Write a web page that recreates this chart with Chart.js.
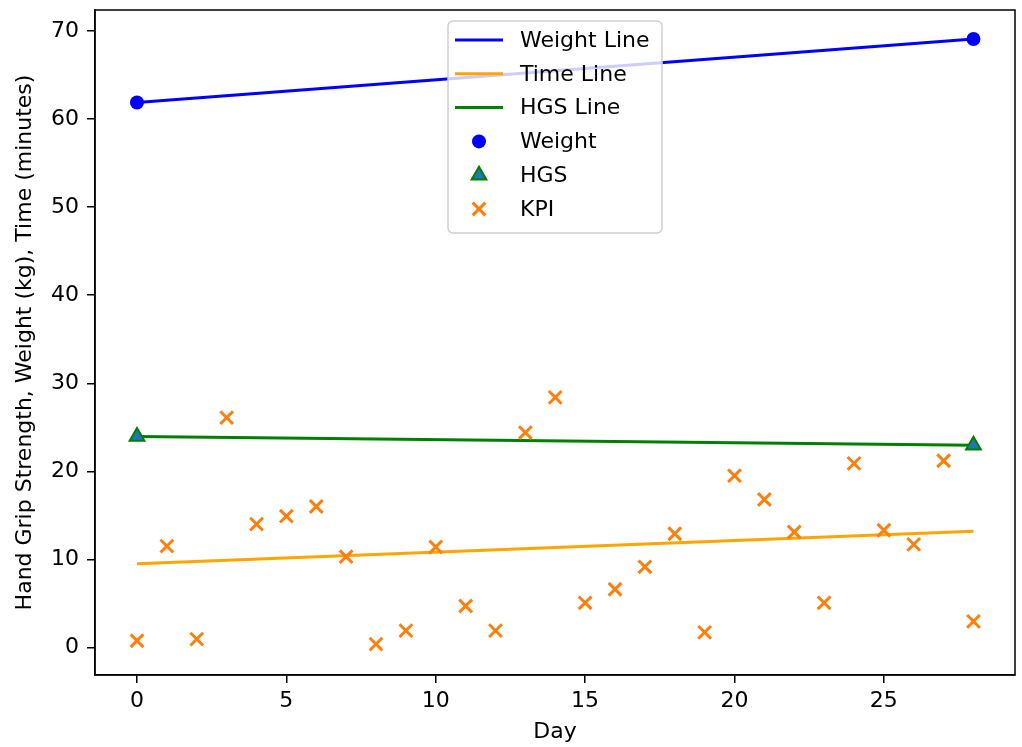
<!DOCTYPE html>
<html>
<head>
<meta charset="utf-8">
<script src="https://cdn.jsdelivr.net/npm/chart.js@4"></script>
<style>
  html, body { margin: 0; padding: 0; background: #fff; }
  #wrap { width: 1022px; height: 747px; }
</style>
</head>
<body>
<div id="wrap"><canvas id="chart" width="1022" height="747"></canvas></div>
<script>
// ---- data ----
const days = [0, 1, 2, 3, 4, 5, 6, 7, 8, 9, 10, 11, 12, 13, 14, 15, 16, 17, 18, 19, 20, 21, 22, 23, 24, 25, 26, 27, 28];
const kpi  = [0.75, 11.5, 0.94, 26.1, 14.0, 14.9, 16.0, 10.3, 0.37, 1.9, 11.4, 4.7, 1.9, 24.4, 28.4,
              5.06, 6.6, 9.15, 12.9, 1.7, 19.5, 16.8, 13.1, 5.06, 20.9, 13.3, 11.7, 21.2, 2.95];

const measureDays = [0, 28];
const weight      = [61.9, 69.1];
const hgs         = [23.95, 22.95];
const timeLine    = [9.5, 13.2];

const xTicks = [0, 5, 10, 15, 20, 25];
const yTicks = [0, 10, 20, 30, 40, 50, 60, 70];

const pts = (xs, ys) => xs.map((x, i) => ({ x: x, y: ys[i] }));

Chart.defaults.font.family = "'DejaVu Sans', sans-serif";
Chart.defaults.font.size = 22;
Chart.defaults.color = '#000';

// matplotlib-like frame around the axes
const framePlugin = {
    id: 'frame',
    afterDatasetsDraw(chart) {
        const { ctx, chartArea: a } = chart;
        ctx.save();
        ctx.strokeStyle = '#000';
        ctx.lineWidth = 1.5;
        ctx.strokeRect(a.left, a.top, a.right - a.left, a.bottom - a.top);
        ctx.restore();
    }
};

// legend drawn inside the plot, upper centre
const innerLegend = {
    id: 'innerLegend',
    afterDraw(chart) {
        const ctx = chart.ctx;
        const bx = 448, by = 21, bw = 214, bh = 212, r = 5;
        ctx.save();
        ctx.beginPath();
        ctx.moveTo(bx + r, by);
        ctx.arcTo(bx + bw, by, bx + bw, by + bh, r);
        ctx.arcTo(bx + bw, by + bh, bx, by + bh, r);
        ctx.arcTo(bx, by + bh, bx, by, r);
        ctx.arcTo(bx, by, bx + bw, by, r);
        ctx.closePath();
        ctx.fillStyle = 'rgba(255,255,255,0.8)';
        ctx.fill();
        ctx.strokeStyle = '#d0d0d0';
        ctx.lineWidth = 1.5;
        ctx.stroke();

        ctx.font = "22px 'DejaVu Sans', sans-serif";
        ctx.textBaseline = 'middle';
        ctx.textAlign = 'left';

        chart.data.datasets.forEach((ds, i) => {
            const y = 40 + i * 33.8;
            if (ds.type === 'line') {
                ctx.strokeStyle = ds.borderColor;
                ctx.lineWidth = ds.borderWidth;
                ctx.beginPath();
                ctx.moveTo(455, y);
                ctx.lineTo(503, y);
                ctx.stroke();
            } else {
                ctx.fillStyle = ds.backgroundColor;
                ctx.strokeStyle = ds.borderColor;
                ctx.lineWidth = ds.borderWidth;
                Chart.helpers.drawPoint(ctx, {
                    pointStyle: ds.pointStyle,
                    radius: ds.pointRadius,
                    rotation: 0,
                    borderWidth: ds.borderWidth
                }, 479, y);
            }
            ctx.fillStyle = '#000';
            ctx.fillText(ds.label, 520, y + 1);
        });
        ctx.restore();
    }
};

new Chart(document.getElementById('chart'), {
    type: 'scatter',
    data: {
        datasets: [
            {
                type: 'line', label: 'Weight Line',
                data: pts(measureDays, weight),
                borderColor: '#0000ff', borderWidth: 3,
                pointRadius: 0, order: 3
            },
            {
                type: 'line', label: 'Time Line',
                data: pts(measureDays, timeLine),
                borderColor: '#ffa500', borderWidth: 3,
                pointRadius: 0, order: 3
            },
            {
                type: 'line', label: 'HGS Line',
                data: pts(measureDays, hgs),
                borderColor: '#008000', borderWidth: 3,
                pointRadius: 0, order: 3
            },
            {
                type: 'scatter', label: 'Weight',
                data: pts(measureDays, weight),
                pointStyle: 'circle', pointRadius: 7,
                backgroundColor: '#0000ff', borderColor: '#0000ff', borderWidth: 0,
                order: 1
            },
            {
                type: 'scatter', label: 'HGS',
                data: pts(measureDays, hgs),
                pointStyle: 'triangle', pointRadius: 8.5,
                backgroundColor: '#1f77b4', borderColor: '#008000', borderWidth: 2,
                order: 1
            },
            {
                type: 'scatter', label: 'KPI',
                data: pts(days, kpi),
                pointStyle: 'crossRot', pointRadius: 9,
                backgroundColor: '#ff7f0e', borderColor: '#ff7f0e', borderWidth: 3,
                order: 2
            }
        ]
    },
    options: {
        responsive: false,
        animation: false,
        events: [],
        layout: { autoPadding: false, padding: { top: 10, right: 7, left: 0, bottom: 0 } },
        plugins: {
            legend: { display: false },
            tooltip: { enabled: false }
        },
        scales: {
            x: {
                type: 'linear',
                min: -1.406,
                max: 29.39,
                afterBuildTicks: s => { s.ticks = xTicks.map(v => ({ value: v })); },
                afterFit: s => { s.height = 72; s.paddingLeft = 0; s.paddingRight = 0; },
                grid: { drawOnChartArea: false, drawTicks: true, tickLength: 8, color: '#000', lineWidth: 1.5 },
                border: { display: true, color: '#000', width: 1.5 },
                ticks: { padding: 5, maxRotation: 0, autoSkip: false },
                title: { display: true, text: 'Day', padding: { top: 0, bottom: 2 } }
            },
            y: {
                type: 'linear',
                min: -3.14,
                max: 72.4,
                afterBuildTicks: s => { s.ticks = yTicks.map(v => ({ value: v })); },
                afterFit: s => { s.width = 95; s.paddingTop = 0; s.paddingBottom = 0; },
                grid: { drawOnChartArea: false, drawTicks: true, tickLength: 8, color: '#000', lineWidth: 1.5 },
                border: { display: true, color: '#000', width: 1.5 },
                ticks: { padding: 8, autoSkip: false },
                title: {
                    display: true,
                    text: 'Hand Grip Strength, Weight (kg), Time (minutes)',
                    padding: { top: 12, bottom: 0 }
                }
            }
        }
    },
    plugins: [framePlugin, innerLegend]
});
</script>
</body>
</html>
